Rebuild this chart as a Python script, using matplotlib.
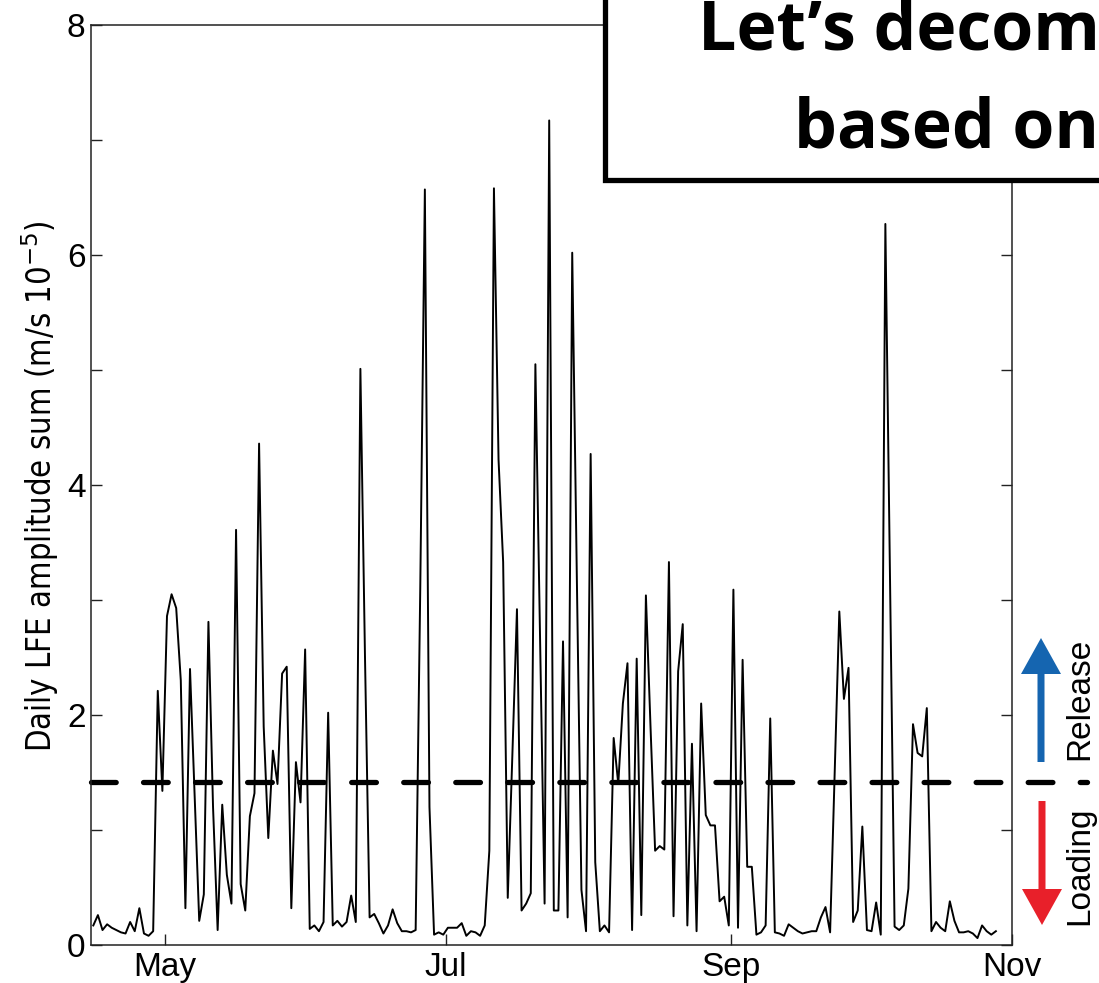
import matplotlib
matplotlib.use("Agg")
import matplotlib.pyplot as plt
from matplotlib.patches import Rectangle, FancyArrow
import pandas as pd

# ---------------- data ----------------
start_date = "2010-04-15 12:00"
lfe_amplitude = [
    0.17, 0.26, 0.13, 0.18, 0.15, 0.13, 0.11, 0.10, 0.20, 0.12,
    0.32, 0.10, 0.08, 0.12, 2.21, 1.34, 2.86, 3.05, 2.93, 2.30,
    0.32, 2.40, 1.30, 0.21, 0.44, 2.81, 1.20, 0.13, 1.22, 0.61,
    0.36, 3.61, 0.53, 0.30, 1.12, 1.32, 4.36, 1.90, 0.93, 1.69,
    1.40, 2.36, 2.42, 0.32, 1.59, 1.24, 2.57, 0.14, 0.17, 0.12,
    0.20, 2.02, 0.17, 0.21, 0.16, 0.20, 0.43, 0.20, 5.01, 2.50,
    0.24, 0.27, 0.19, 0.10, 0.17, 0.31, 0.19, 0.12, 0.12, 0.11,
    0.13, 3.10, 6.57, 1.20, 0.09, 0.11, 0.09, 0.15, 0.15, 0.15,
    0.19, 0.08, 0.12, 0.11, 0.08, 0.17, 0.82, 6.58, 4.22, 3.33,
    0.41, 1.65, 2.92, 0.30, 0.36, 0.45, 5.05, 2.70, 0.36, 7.17,
    0.30, 0.30, 2.64, 0.24, 6.02, 3.20, 0.48, 0.12, 4.27, 0.72,
    0.12, 0.17, 0.11, 1.80, 1.40, 2.10, 2.45, 0.13, 2.49, 0.26,
    3.04, 1.90, 0.82, 0.86, 0.83, 3.33, 0.25, 2.38, 2.79, 0.17,
    1.75, 0.12, 2.10, 1.13, 1.04, 1.04, 0.38, 0.42, 0.17, 3.09,
    0.15, 2.48, 0.68, 0.68, 0.09, 0.11, 0.17, 1.97, 0.11, 0.10,
    0.08, 0.18, 0.15, 0.12, 0.10, 0.11, 0.12, 0.12, 0.24, 0.33,
    0.11, 1.50, 2.90, 2.14, 2.41, 0.20, 0.30, 1.03, 0.13, 0.12,
    0.37, 0.09, 6.27, 3.20, 0.16, 0.13, 0.17, 0.49, 1.92, 1.67,
    1.64, 2.06, 0.12, 0.20, 0.15, 0.12, 0.38, 0.21, 0.11, 0.11,
    0.12, 0.10, 0.06, 0.17, 0.12, 0.09, 0.12,
]
threshold = 1.42
x_start, x_end = "2010-04-15", "2010-11-01"
month_ticks = ["2010-05-01", "2010-07-01", "2010-09-01", "2010-11-01"]
month_labels = ["May", "Jul", "Sep", "Nov"]
y_ticks = [0, 1, 2, 3, 4, 5, 6, 7, 8]
y_labels = ["0", "", "2", "", "4", "", "6", "", "8"]
ylabel = "Daily LFE amplitude sum (m/s 10$^{-5}$)"
title_lines = ["Let\u2019s decompose", "based on"]
arrow_labels = ["Release", "Loading"]

dates = pd.date_range(start_date, periods=len(lfe_amplitude), freq="D")

# ---------------- figure ----------------
W, H = 1099, 983
fig = plt.figure(figsize=(W / 100, H / 100), dpi=100)
ax = fig.add_axes([91 / W, 1 - 945 / H, 921 / W, 920 / H])

ax.plot(dates, lfe_amplitude, color="black", lw=1.4, zorder=3)
lw_dash = 3.8
ax.axhline(threshold, xmin=0, xmax=(1087 - 91) / 921, color="black", lw=lw_dash,
           dashes=(4.68, 5.18), dash_capstyle="round", clip_on=False, zorder=2)

ax.set_xlim(pd.Timestamp(x_start), pd.Timestamp(x_end))
ax.set_ylim(0, 8)
ax.set_xticks([pd.Timestamp(d) for d in month_ticks])
ax.set_xticklabels(month_labels)
ax.set_yticks(y_ticks)
ax.set_yticklabels(y_labels)

for sp in ax.spines.values():
    sp.set_linewidth(1.1)
    sp.set_color("#222222")

ax.tick_params(axis="y", direction="in", length=8, width=1.0, right=True,
               labelsize=24, pad=4, colors="#222222", labelcolor="black")
ax.tick_params(axis="x", direction="in", length=8, width=1.0, top=False,
               labelsize=24, pad=5, colors="#222222", labelcolor="black")
for lab in ax.get_xticklabels() + ax.get_yticklabels():
    lab.set_fontfamily(["Liberation Sans", "DejaVu Sans"])

fig.text(40 / W, 1 - 486 / H, ylabel, rotation=90, ha="center", va="center",
         fontsize=23.5, fontstretch="condensed",
         family=["DejaVu Sans"])

# ---------------- overlay (pixel coordinates) ----------------
ov = fig.add_axes([0, 0, 1, 1], zorder=10)
ov.set_xlim(0, W)
ov.set_ylim(H, 0)
ov.axis("off")
ov.patch.set_alpha(0)

ov.add_patch(Rectangle((605, -20), 600, 200, facecolor="white",
                       edgecolor="black", lw=3.8, zorder=5))
ov.text(698, 50, title_lines[0], ha="left", va="baseline", fontsize=49,
        fontweight="bold", family=["Open Sans", "DejaVu Sans"], zorder=6)
ov.text(794, 148, title_lines[1], ha="left", va="baseline", fontsize=49,
        fontweight="bold", family=["Open Sans", "DejaVu Sans"], zorder=6)

# arrows
ov.add_patch(FancyArrow(1041, 762, 0, -124, width=7, head_width=40,
                        head_length=36, length_includes_head=True,
                        color="#1565b0", lw=0))
ov.add_patch(FancyArrow(1042, 801, 0, 124, width=7, head_width=40,
                        head_length=36, length_includes_head=True,
                        color="#e8202a", lw=0))
ov.text(1080, 699, arrow_labels[0], rotation=90, ha="center", va="center",
        fontsize=24, family=["Liberation Sans", "DejaVu Sans"])
ov.text(1080, 866, arrow_labels[1], rotation=90, ha="center", va="center",
        fontsize=24, family=["Liberation Sans", "DejaVu Sans"])

fig.savefig("out.png", dpi=100)
